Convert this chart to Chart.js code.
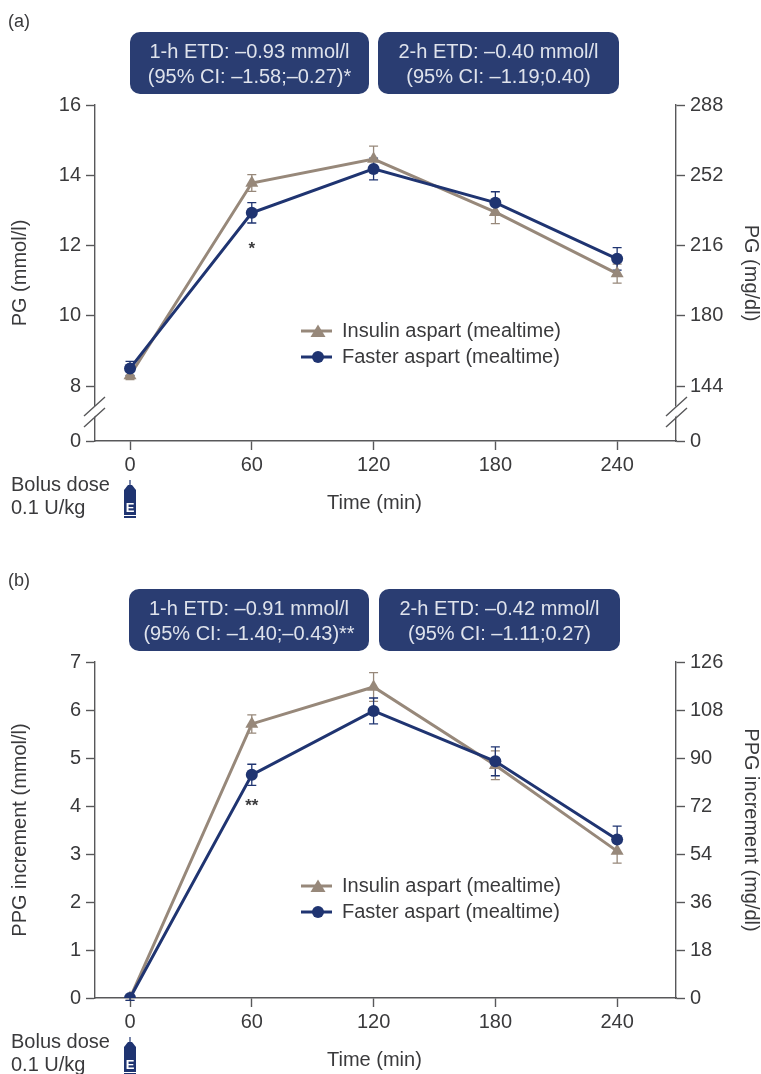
<!DOCTYPE html>
<html><head><meta charset="utf-8">
<style>html,body{margin:0;padding:0;background:#fff;overflow:hidden;width:761px;height:1074px}
canvas{position:absolute;left:0;filter:blur(0.45px)}</style>
<script src="https://cdn.jsdelivr.net/npm/chart.js@4"></script></head>
<body>
<canvas id="a" width="761" height="557" style="top:0"></canvas>
<canvas id="b" width="761" height="557" style="top:557px"></canvas>
<script>
const times = [0, 60, 120, 180, 240];
const seriesNames = ['Insulin aspart (mealtime)', 'Faster aspart (mealtime)'];

const insulinA = [8.3, 13.78, 14.46, 12.95, 11.2];
const insulinErrA = [0.12, 0.24, 0.37, 0.33, 0.27];
const fasterA = [8.5, 12.93, 14.18, 13.22, 11.62];
const fasterErrA = [0.2, 0.29, 0.31, 0.31, 0.32];
const leftTicksA = [0, 8, 10, 12, 14, 16];
const rightTicksA = [0, 144, 180, 216, 252, 288];

const insulinB = [0, 5.71, 6.48, 4.85, 3.06];
const insulinErrB = [0.05, 0.19, 0.3, 0.3, 0.25];
const fasterB = [0, 4.65, 5.98, 4.93, 3.3];
const fasterErrB = [0.05, 0.22, 0.27, 0.3, 0.28];
const leftTicksB = [0, 1, 2, 3, 4, 5, 6, 7];
const rightTicksB = [0, 18, 36, 54, 72, 90, 108, 126];

const NAVY = '#1f3471', BROWN = '#97887a', AXIS = '#58585a', TEXT = '#3a3a3c';
const FONT = '"Liberation Sans", Arial, sans-serif';

function legendIcon(kind, color) {
  const c = document.createElement('canvas');
  c.width = 34; c.height = 16;
  const g = c.getContext('2d');
  g.strokeStyle = color; g.fillStyle = color; g.lineWidth = 3;
  g.beginPath(); g.moveTo(3, 8); g.lineTo(34, 8); g.stroke();
  g.beginPath();
  if (kind === 'circle') g.arc(20, 8, 6, 0, Math.PI * 2);
  else { g.moveTo(20, 1.5); g.lineTo(27.5, 14); g.lineTo(12.5, 14); g.closePath(); }
  g.fill();
  return c;
}

function drawSyringe(g, cx, top) {
  g.save();
  g.fillStyle = NAVY; g.strokeStyle = NAVY;
  g.lineWidth = 1.2;
  g.beginPath(); g.moveTo(cx, top); g.lineTo(cx, top + 6); g.stroke();
  g.beginPath();
  g.moveTo(cx - 2, top + 5); g.lineTo(cx + 2, top + 5); g.lineTo(cx + 6, top + 10);
  g.lineTo(cx + 6, top + 35); g.lineTo(cx - 6, top + 35); g.lineTo(cx - 6, top + 10);
  g.closePath(); g.fill();
  g.fillRect(cx - 6, top + 36, 12, 2);
  g.fillStyle = '#fff';
  g.font = 'bold 13px ' + FONT; g.textAlign = 'center'; g.textBaseline = 'middle';
  g.fillText('E', cx, top + 28);
  g.restore();
}

function makePanel(id, cfg) {
  const overlay = {
    id: 'overlay',
    afterLayout(chart) {
      const l = chart.legend;
      const w = l.width, h = l.height;
      l.left = 292; l.right = l.left + w; l.top = cfg.legendTop; l.bottom = l.top + h;
    },
    beforeDatasetsDraw(chart) {
      const g = chart.ctx, xs = chart.scales.x, ys = chart.scales.y;
      g.save();
      g.lineWidth = 1.3;
      [[cfg.insulin, cfg.insulinErr, BROWN], [cfg.faster, cfg.fasterErr, NAVY]].forEach(([vals, errs, col]) => {
        g.strokeStyle = col;
        vals.forEach((v, i) => {
          const x = xs.getPixelForValue(times[i]);
          const y1 = ys.getPixelForValue(v - errs[i]), y2 = ys.getPixelForValue(v + errs[i]);
          g.beginPath();
          g.moveTo(x, y1); g.lineTo(x, y2);
          g.moveTo(x - 4.5, y1); g.lineTo(x + 4.5, y1);
          g.moveTo(x - 4.5, y2); g.lineTo(x + 4.5, y2);
          g.stroke();
        });
      });
      g.restore();
    },
    afterDraw(chart) {
      const g = chart.ctx, xs = chart.scales.x, ys = chart.scales.y;
      g.save();
      g.textBaseline = 'middle';
      g.fillStyle = TEXT; g.font = '18px ' + FONT; g.textAlign = 'left';
      g.fillText(cfg.letter, 8, cfg.letterY);
      g.font = '20px ' + FONT;
      g.fillText('Bolus dose', 11, 485);
      g.fillText('0.1 U/kg', 11, 508);
      drawSyringe(g, 130, 480);
      g.textAlign = 'center'; g.font = 'bold 17px ' + FONT;
      g.fillText(cfg.star, xs.getPixelForValue(60), ys.getPixelForValue(cfg.starAt));
      cfg.boxes.forEach(b => {
        g.fillStyle = '#2a3d72';
        g.beginPath(); g.roundRect(b.x, 32, b.w, 62, 10); g.fill();
        g.fillStyle = '#dfe3ec'; g.font = '20px ' + FONT; g.textAlign = 'center';
        g.fillText(b.lines[0], b.x + b.w / 2, 52);
        g.fillText(b.lines[1], b.x + b.w / 2, 77);
      });
      if (cfg.broken) {
        [[95, 84, 105], [676, 666, 687]].forEach(([ax, x0, x1]) => {
          g.fillStyle = '#fff';
          g.beginPath();
          g.moveTo(ax - 2, 408); g.lineTo(ax + 2, 404); g.lineTo(ax + 2, 414); g.lineTo(ax - 2, 418);
          g.closePath(); g.fill();
          g.strokeStyle = AXIS; g.lineWidth = 1.4;
          g.beginPath();
          g.moveTo(x0, 416); g.lineTo(x1, 397);
          g.moveTo(x0, 427); g.lineTo(x1, 408);
          g.stroke();
        });
      }
      g.restore();
    }
  };

  const axisBase = {
    grid: { drawOnChartArea: false, drawTicks: true, tickLength: 9, tickColor: AXIS, tickWidth: 1.4 },
    border: { color: AXIS, width: 1.4 },
    ticks: { color: TEXT, font: { family: FONT, size: 20 }, padding: 5, autoSkip: false, maxRotation: 0 }
  };
  const setTicks = list => s => { s.ticks = list.map(v => ({ value: v })); };
  const labelFor = (value, bottom) => (value === bottom ? '0' : String(value));

  return new Chart(document.getElementById(id), {
    type: 'line',
    plugins: [overlay],
    data: {
      datasets: [
        { label: seriesNames[0], data: times.map((t, i) => ({ x: t, y: cfg.insulin[i] })), borderColor: BROWN, order: 2,
          backgroundColor: BROWN, pointStyle: 'triangle', pointRadius: 7.5, pointBorderWidth: 0, borderWidth: 3, tension: 0 },
        { label: seriesNames[1], data: times.map((t, i) => ({ x: t, y: cfg.faster[i] })), borderColor: NAVY, order: 1,
          backgroundColor: NAVY, pointStyle: 'circle', pointRadius: 6, pointBorderWidth: 0, borderWidth: 3, tension: 0 }
      ]
    },
    options: {
      responsive: false, animation: false, devicePixelRatio: 1,
      layout: { padding: { top: 105, left: 0, right: 0, bottom: 0 } },
      plugins: {
        tooltip: { enabled: false },
        legend: {
          position: 'chartArea', align: 'start',
          labels: {
            color: TEXT, font: { family: FONT, size: 20 }, usePointStyle: true, pointStyleWidth: 34, padding: 6,
            generateLabels: () => [
              { text: seriesNames[0], pointStyle: legendIcon('triangle', BROWN), fontColor: TEXT, lineWidth: 0, strokeStyle: 'transparent', fillStyle: 'transparent', datasetIndex: 0 },
              { text: seriesNames[1], pointStyle: legendIcon('circle', NAVY), fontColor: TEXT, lineWidth: 0, strokeStyle: 'transparent', fillStyle: 'transparent', datasetIndex: 1 }
            ]
          }
        }
      },
      scales: {
        x: Object.assign({}, axisBase, {
          type: 'linear', min: -17.25, max: 269,
          afterFit(s) { s.height = 116; },
          afterBuildTicks: setTicks(times),
          ticks: Object.assign({}, axisBase.ticks, { padding: 3, callback: v => String(v) }),
          title: { display: true, text: 'Time (min)    ', color: TEXT, font: { family: FONT, size: 20 }, padding: { top: 0, bottom: 42 } }
        }),
        y: Object.assign({}, axisBase, {
          type: 'linear', position: 'left', min: cfg.yBottom, max: cfg.leftTicks[cfg.leftTicks.length - 1],
          afterFit(s) { s.width = 95; },
          afterBuildTicks: setTicks([cfg.yBottom].concat(cfg.leftTicks.slice(1))),
          ticks: Object.assign({}, axisBase.ticks, { callback: v => labelFor(v, cfg.yBottom) }),
          title: { display: true, text: cfg.leftTitle, color: TEXT, font: { family: FONT, size: 20 }, padding: { top: 8, bottom: 8 } }
        }),
        y1: Object.assign({}, axisBase, {
          type: 'linear', position: 'right', min: cfg.yBottom * 18, max: cfg.rightTicks[cfg.rightTicks.length - 1],
          afterFit(s) { s.width = 85; },
          afterBuildTicks: setTicks([cfg.yBottom * 18].concat(cfg.rightTicks.slice(1))),
          ticks: Object.assign({}, axisBase.ticks, { callback: v => labelFor(v, cfg.yBottom * 18) }),
          title: { display: true, text: cfg.rightTitle, color: TEXT, font: { family: FONT, size: 20 }, padding: { top: -2, bottom: -2 } }
        })
      }
    }
  });
}

makePanel('a', {
  letter: '(a)', letterY: 22, insulin: insulinA, insulinErr: insulinErrA, faster: fasterA, fasterErr: fasterErrA,
  leftTicks: leftTicksA, rightTicks: rightTicksA, yBottom: 8 - 55 / 35.125, broken: true,
  leftTitle: 'PG (mmol/l)', rightTitle: 'PG (mg/dl)', star: '*', starAt: 11.88, legendTop: 315,
  boxes: [
    { x: 130, w: 239, lines: ['1-h ETD: –0.93 mmol/l', '(95% CI: –1.58;–0.27)*'] },
    { x: 378, w: 241, lines: ['2-h ETD: –0.40 mmol/l', '(95% CI: –1.19;0.40)'] }
  ]
});
makePanel('b', {
  letter: '(b)', letterY: 24, insulin: insulinB, insulinErr: insulinErrB, faster: fasterB, fasterErr: fasterErrB,
  leftTicks: leftTicksB, rightTicks: rightTicksB, yBottom: 0, broken: false,
  leftTitle: 'PPG increment (mmol/l)', rightTitle: 'PPG increment (mg/dl)', star: '**', starAt: 4.0, legendTop: 313,
  boxes: [
    { x: 129, w: 240, lines: ['1-h ETD: –0.91 mmol/l', '(95% CI: –1.40;–0.43)**'] },
    { x: 379, w: 241, lines: ['2-h ETD: –0.42 mmol/l', '(95% CI: –1.11;0.27)'] }
  ]
});
</script>
</body></html>
